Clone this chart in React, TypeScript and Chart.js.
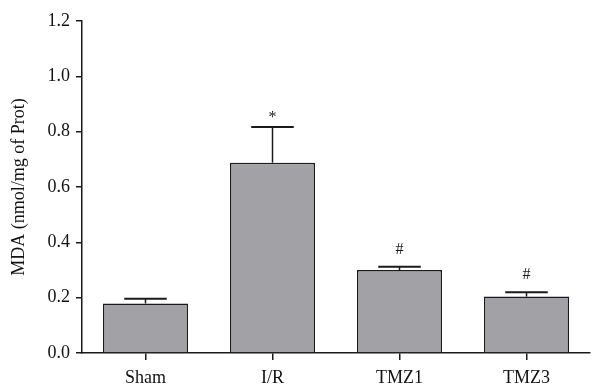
import React, { useEffect, useRef } from "react";
import { Chart, registerables } from "chart.js";

Chart.register(...registerables);

const categories = ["Sham", "I/R", "TMZ1", "TMZ3"];
const means = [0.179, 0.688, 0.3, 0.204];
const errors = [0.017, 0.129, 0.012, 0.016];
const marks = ["", "*", "#", "#"];
const yTicks = [0, 0.2, 0.4, 0.6, 0.8, 1.0, 1.2];

const FONT = "'Liberation Serif', 'Times New Roman', serif";

const errorBarPlugin = {
  id: "errorBars",
  afterDatasetsDraw(chart: any) {
    const ctx = chart.ctx;
    const meta = chart.getDatasetMeta(0);
    const y = chart.scales.y;
    ctx.save();
    meta.data.forEach((bar: any, i: number) => {
      const x = bar.x;
      const topPx = y.getPixelForValue(means[i]);
      const capPx = y.getPixelForValue(means[i] + errors[i]);
      const half = bar.width / 4;
      ctx.strokeStyle = "#1a1a1a";
      ctx.lineWidth = 1.5;
      ctx.beginPath();
      ctx.moveTo(x, topPx);
      ctx.lineTo(x, capPx);
      ctx.stroke();
      ctx.lineWidth = 2;
      ctx.beginPath();
      ctx.moveTo(x - half, capPx);
      ctx.lineTo(x + half, capPx);
      ctx.stroke();
      if (marks[i]) {
        ctx.fillStyle = "#1a1a1a";
        ctx.font = `16px ${FONT}`;
        ctx.textAlign = "center";
        ctx.textBaseline = "middle";
        const off = marks[i] === "*" ? 9 : 17;
        ctx.fillText(marks[i], x, capPx - off);
      }
    });
    ctx.restore();
  },
};

export default function App() {
  const ref = useRef<HTMLCanvasElement | null>(null);
  useEffect(() => {
    if (!ref.current) return;
    const chart = new Chart(ref.current, {
      type: "bar",
      data: {
        labels: categories,
        datasets: [
          {
            data: means,
            backgroundColor: "#a2a1a6",
            borderColor: "#1a1a1a",
            borderWidth: 1.5,
            barPercentage: 0.67,
            categoryPercentage: 1,
          },
        ],
      },
      options: {
        animation: false,
        responsive: false,
        maintainAspectRatio: false,
        layout: { padding: { top: 21, right: 8, left: 0, bottom: 0 } },
        plugins: { legend: { display: false }, tooltip: { enabled: false } },
        scales: {
          x: {
            afterFit(scale: any) {
              scale.height = 33;
            },
            grid: {
              display: true,
              offset: false,
              drawOnChartArea: false,
              drawTicks: true,
              tickLength: 7,
              color: "#1a1a1a",
              lineWidth: 1.5,
            },
            border: { display: true, color: "#1a1a1a", width: 1.5 },
            ticks: {
              color: "#111",
              font: { family: FONT, size: 18 },
              padding: 7,
            },
          },
          y: {
            min: 0,
            max: 1.2,
            afterFit(scale: any) {
              scale.width = 82;
            },
            afterBuildTicks(scale: any) {
              scale.ticks = yTicks.map((v) => ({ value: v }));
            },
            grid: {
              display: true,
              drawOnChartArea: false,
              drawTicks: true,
              tickLength: 6,
              color: "#1a1a1a",
              lineWidth: 1.5,
            },
            border: { display: true, color: "#1a1a1a", width: 1.5 },
            ticks: {
              color: "#111",
              font: { family: FONT, size: 18 },
              padding: 6,
              callback: (v: any) => Number(v).toFixed(1),
            },
            title: {
              display: true,
              text: "MDA (nmol/mg of Prot)",
              color: "#111",
              font: { family: FONT, size: 18 },
              padding: { top: 8, bottom: 0 },
            },
          },
        },
      },
      plugins: [errorBarPlugin],
    });
    return () => chart.destroy();
  }, []);
  return (
    <div style={{ position: "fixed", left: 0, top: 0, width: 598, height: 386, background: "#fff" }}>
      <canvas ref={ref} width={598} height={386} style={{ width: 598, height: 386 }} />
    </div>
  );
}
